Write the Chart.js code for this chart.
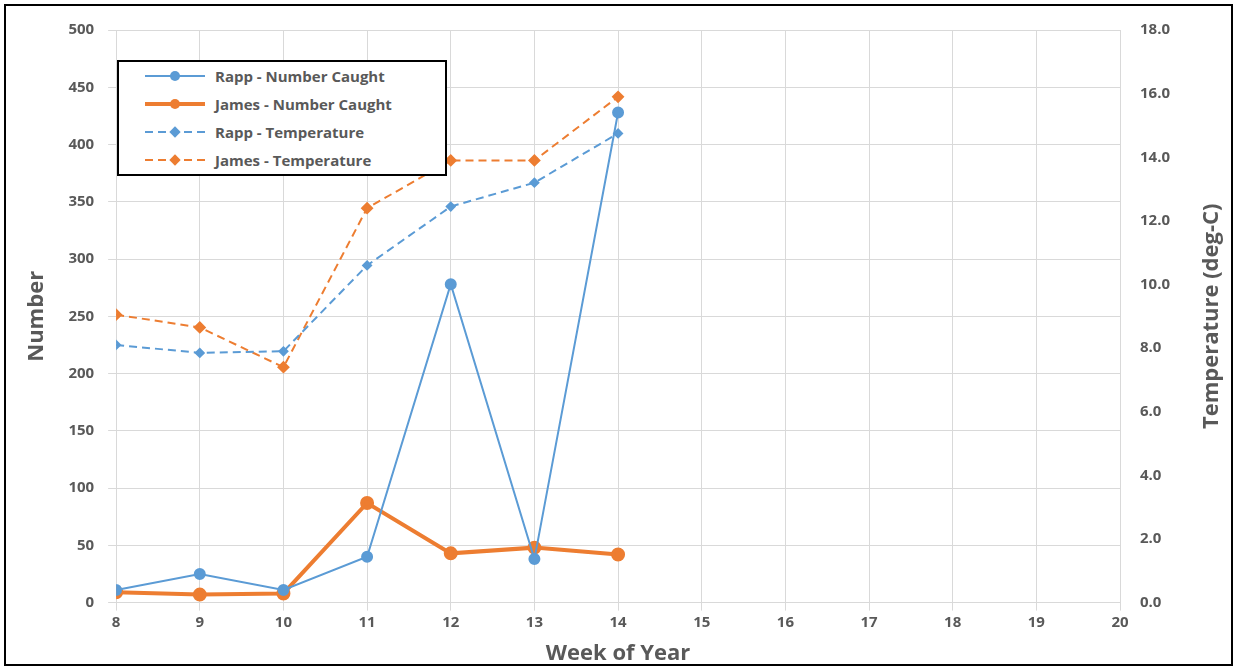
<!DOCTYPE html>
<html>
<head>
<meta charset="utf-8">
<script src="https://cdn.jsdelivr.net/npm/chart.js@4"></script>
<style>
  html, body { margin: 0; padding: 0; background: #fff; }
  #frame { position: absolute; left: 4px; top: 4px; width: 1225px; height: 658px; border: 2px solid #000; }
  #wrap { position: absolute; left: 0; top: 0; width: 1237px; height: 668px; }
  #legend { position: absolute; left: 117px; top: 60px; width: 326px; height: 112px; border: 2px solid #000; background: #fff;
    font: bold 15px "Open Sans", sans-serif; color: #595959; }
  #legend div { height: 28px; display: flex; align-items: center; padding-left: 26px; }
  #legend svg { margin-right: 10px; }
</style>
</head>
<body>
<div id="wrap"><canvas id="c" width="1237" height="668"></canvas></div>
<div id="frame"></div>
<div id="legend"></div>
<script>
const weeks = [8, 9, 10, 11, 12, 13, 14];
const rappCaught = [11, 25, 11, 40, 278, 38, 428];
const jamesCaught = [9, 7, 8, 87, 43, 48, 42];
const rappTemp = [8.1, 7.85, 7.9, 10.6, 12.45, 13.2, 14.75];
const jamesTemp = [9.05, 8.65, 7.4, 12.4, 13.9, 13.9, 15.9];

const BLUE = "#5b9bd5", ORANGE = "#ed7d31", GRAY = "#595959";
const pts = (ys) => weeks.map((w, i) => ({ x: w, y: ys[i] }));

const series = [
  { label: "Rapp - Number Caught", data: pts(rappCaught), color: BLUE, width: 2, dash: [], pt: "circle", r: 5, axis: "y" },
  { label: "James - Number Caught", data: pts(jamesCaught), color: ORANGE, width: 4, dash: [], pt: "circle", r: 5, axis: "y" },
  { label: "Rapp - Temperature", data: pts(rappTemp), color: BLUE, width: 2, dash: [8, 5], pt: "rectRot", r: 4, axis: "y2" },
  { label: "James - Temperature", data: pts(jamesTemp), color: ORANGE, width: 2, dash: [8, 5], pt: "rectRot", r: 5, axis: "y2" },
];

const legend = document.getElementById("legend");
series.forEach((s) => {
  const row = document.createElement("div");
  const marker = s.pt === "circle"
    ? `<circle cx="30" cy="8" r="5" fill="${s.color}"/>`
    : `<rect x="26" y="4" width="8" height="8" fill="${s.color}" transform="rotate(45 30 8)"/>`;
  row.innerHTML = `<svg width="60" height="16"><line x1="0" y1="8" x2="60" y2="8" stroke="${s.color}" stroke-width="${s.width}" stroke-dasharray="${s.dash.join(",")}"/>${marker}</svg>${s.label}`;
  legend.appendChild(row);
});

const font = { family: "'Open Sans', sans-serif", weight: "bold", size: 15 };
const titleFont = { ...font, size: 22 };

// right axis title reads bottom-to-top like the left one
const rightTitle = {
  id: "rightTitle",
  afterDraw(chart) {
    const { ctx, chartArea } = chart;
    ctx.save();
    ctx.translate(1212, (chartArea.top + chartArea.bottom) / 2);
    ctx.rotate(-Math.PI / 2);
    ctx.font = `bold 22px 'Open Sans', sans-serif`;
    ctx.fillStyle = GRAY;
    ctx.textAlign = "center";
    ctx.textBaseline = "middle";
    ctx.fillText("Temperature (deg-C)", 0, 0);
    ctx.restore();
  },
};

new Chart(document.getElementById("c"), {
  type: "line",
  data: {
    datasets: series.map((s) => ({
      label: s.label, data: s.data, yAxisID: s.axis,
      borderColor: s.color, backgroundColor: s.color, borderWidth: s.width, borderDash: s.dash,
      pointStyle: s.pt, pointRadius: s.r, pointHoverRadius: s.r, tension: 0,
    })),
  },
  options: {
    responsive: false, animation: false,
    layout: { padding: { left: 20, right: 10, top: 30, bottom: 1 } },
    plugins: { legend: { display: false }, tooltip: { enabled: false } },
    scales: {
      x: {
        type: "linear", min: 8, max: 20,
        ticks: { stepSize: 1, color: GRAY, font },
        grid: { color: "#d9d9d9" }, border: { color: "#d9d9d9" },
        title: { display: true, text: "Week of Year", color: GRAY, font: titleFont, padding: { top: 6, bottom: 0 } },
      },
      y: {
        min: 0, max: 500,
        ticks: { stepSize: 50, color: GRAY, font, padding: 14 },
        grid: { color: "#d9d9d9" }, border: { display: false },
        title: { display: true, text: "Number", color: GRAY, font: titleFont },
      },
      y2: {
        position: "right", min: 0, max: 18,
        ticks: { stepSize: 2, color: GRAY, font, padding: 12, callback: (v) => v.toFixed(1) },
        grid: { display: false }, border: { display: false },
        afterFit(scale) { scale.width = 107; },
      },
    },
  },
  plugins: [rightTitle],
});
</script>
</body>
</html>
